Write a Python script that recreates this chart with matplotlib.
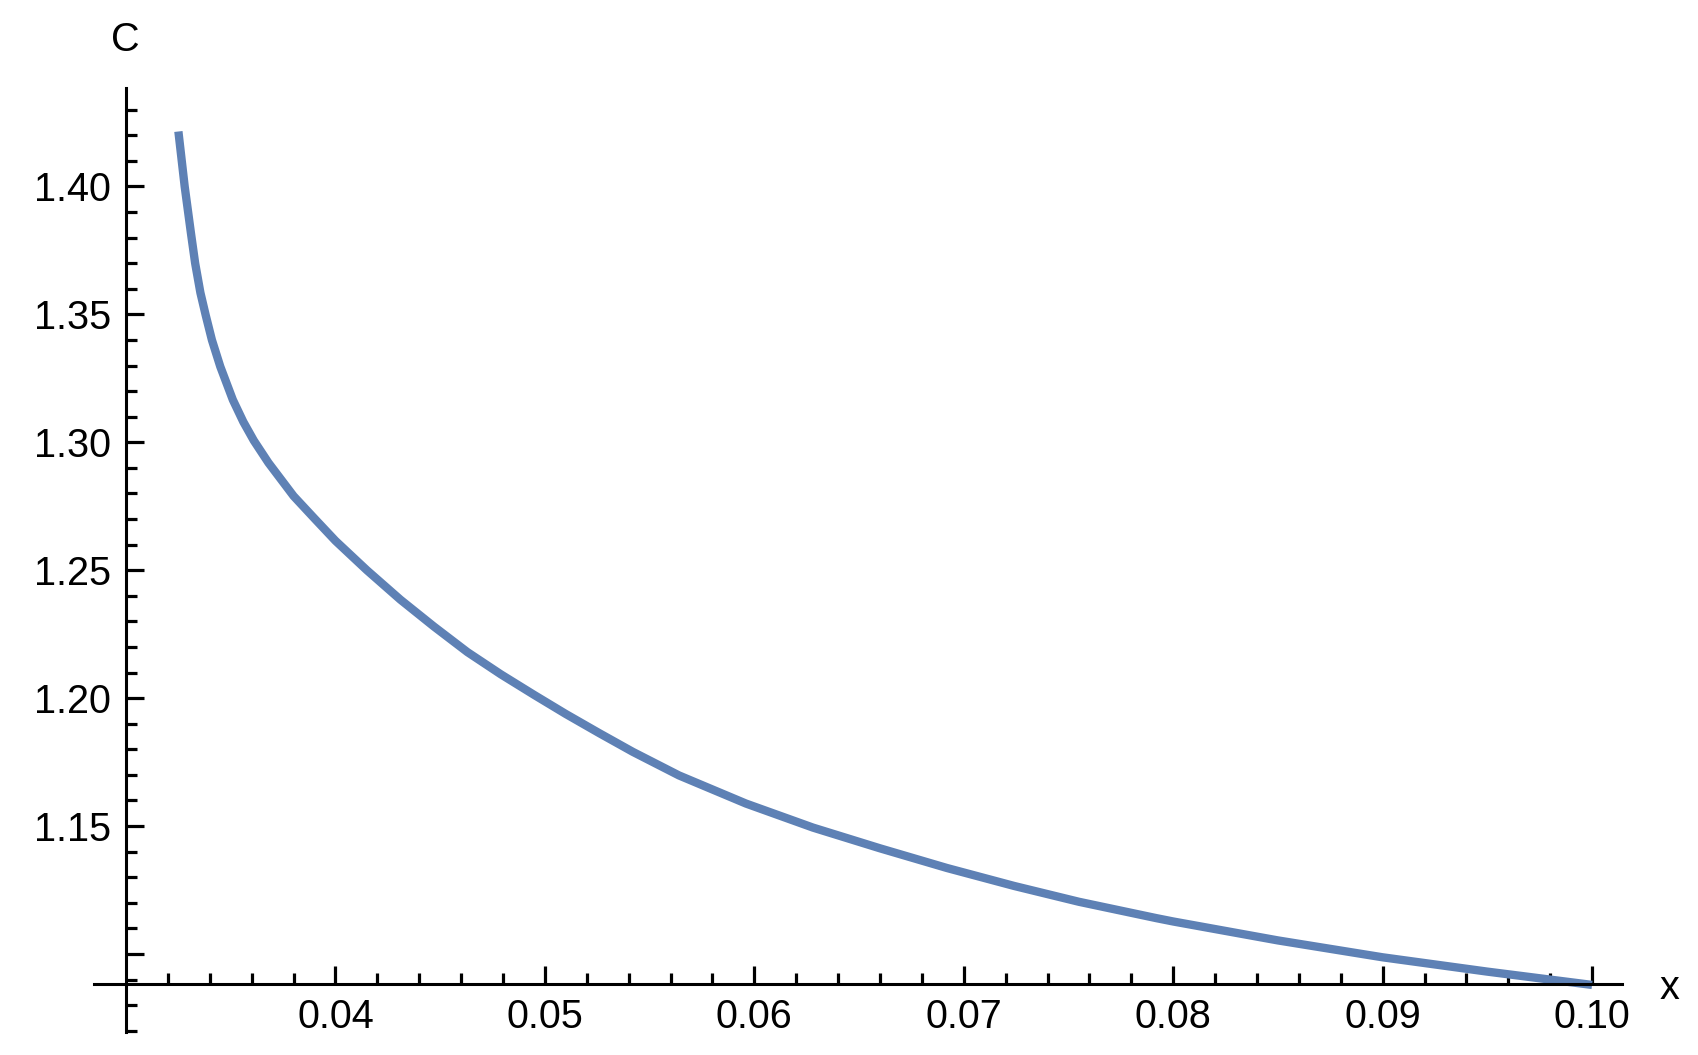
import numpy as np
import matplotlib.pyplot as plt
from matplotlib.ticker import MultipleLocator, FixedLocator

plt.rcParams['font.family'] = ['Liberation Sans', 'DejaVu Sans']

# valores
x = [0.0325, 0.0328, 0.0331, 0.0333, 0.03355, 0.0338, 0.0341, 0.0345,
     0.0351, 0.0356, 0.0361, 0.0368, 0.0380, 0.0390, 0.0400, 0.0415,
     0.0431, 0.0447, 0.0463, 0.0479, 0.0495, 0.0510, 0.0526, 0.0542,
     0.0564, 0.0596, 0.0628, 0.0660, 0.0692, 0.0724, 0.0755, 0.0792,
     0.0800, 0.0850, 0.0900, 0.0950, 0.1000]
C = [1.4215, 1.4000, 1.3817, 1.3700, 1.3585, 1.3498, 1.3400, 1.3296,
     1.3166, 1.3080, 1.3007, 1.2920, 1.2790, 1.2702, 1.2615, 1.2500,
     1.2385, 1.2280, 1.2180, 1.2093, 1.2012, 1.1938, 1.1863, 1.1790,
     1.1698, 1.1588, 1.1494, 1.1413, 1.1336, 1.1266, 1.1204, 1.1140,
     1.1127, 1.1053, 1.0987, 1.0931, 1.0879]

xticks = [0.04, 0.05, 0.06, 0.07, 0.08, 0.09, 0.10]
xlabels = ['0.04', '0.05', '0.06', '0.07', '0.08', '0.09', '0.10']
yticks = [1.10, 1.15, 1.20, 1.25, 1.30, 1.35, 1.40]
ylabels = ['', '1.15', '1.20', '1.25', '1.30', '1.35', '1.40']

fig = plt.figure(figsize=(16.98, 10.55), dpi=100)
ax = fig.add_axes([94/1698, 23/1055, 1528/1698, 944/1055])

ax.plot(x, C, color='#5E81B5', linewidth=6, solid_capstyle='butt',
        solid_joinstyle='round')

ax.set_xlim(0.02847, 0.10143)
ax.set_ylim(1.0695, 1.4385)

# ejes estilo Mathematica
ax.spines['left'].set_position(('data', 0.03))
ax.spines['bottom'].set_position(('data', 1.0883))
ax.spines['right'].set_visible(False)
ax.spines['top'].set_visible(False)
for s in ['left', 'bottom']:
    ax.spines[s].set_linewidth(2.2)

ax.set_xticks(xticks)
ax.set_xticklabels(xlabels)
ax.set_yticks(yticks)
ax.set_yticklabels(ylabels)
ax.xaxis.set_minor_locator(FixedLocator(np.arange(0.032, 0.1, 0.002)))
ax.yaxis.set_minor_locator(MultipleLocator(0.01))

ax.tick_params(which='both', direction='in', width=2.3, labelsize=28.5)
ax.tick_params(which='major', length=13)
ax.tick_params(which='minor', length=8)
ax.tick_params(axis='x', pad=10)
ax.tick_params(axis='y', pad=11)

fig.text(125/1698, 1 - 40/1055, 'C', fontsize=28.5, ha='center', va='center')
fig.text(1669/1698, 1 - 988/1055, 'x', fontsize=28.5, ha='center', va='center')

fig.savefig('out.png', dpi=100)
